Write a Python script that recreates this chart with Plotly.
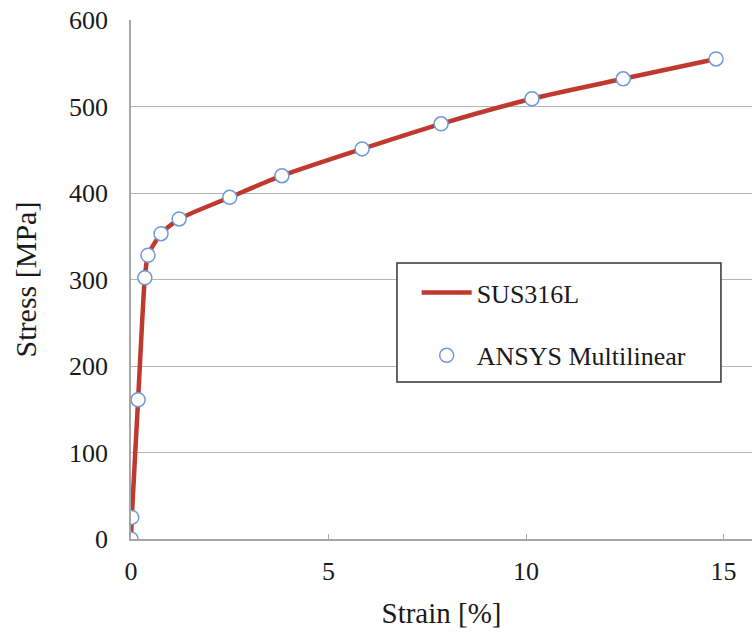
import plotly.graph_objects as go

strain = [0.0, 0.02, 0.18, 0.35, 0.43, 0.76, 1.22, 2.5, 3.82, 5.85, 7.85, 10.15, 12.46, 14.81]
stress = [0, 25, 161, 302, 328, 353, 370, 395, 420, 451, 480, 509, 532, 555]

y_ticks = [0, 100, 200, 300, 400, 500, 600]
x_ticks = [0, 5, 10, 15]

font_family = "Liberation Serif, Times New Roman, serif"

fig = go.Figure()
fig.add_trace(go.Scatter(
    x=strain, y=stress, mode="lines", name="SUS316L",
    line=dict(color="#c0392f", width=4.5, shape="spline", smoothing=0.6),
    legendgroup="a",
))
fig.add_trace(go.Scatter(
    x=strain, y=stress, mode="markers", name="ANSYS Multilinear",
    marker=dict(symbol="circle", size=14, color="white",
                line=dict(color="#6d9ad6", width=1.5)),
    legendgroup="b",
))

# legend frame
fig.add_shape(type="rect", xref="paper", yref="paper",
              x0=0.4283, x1=0.950, y0=0.3025, y1=0.5318,
              line=dict(color="#333", width=1.5), fillcolor="white", layer="above")

fig.update_layout(
    width=752, height=634,
    margin=dict(l=131, r=0, t=20, b=95),
    paper_bgcolor="white", plot_bgcolor="white",
    font=dict(family=font_family, size=26, color="#1a1a1a"),
    showlegend=True,
    legend=dict(
        x=0.46, y=0.52, xanchor="left", yanchor="top",
        bgcolor="rgba(0,0,0,0)", borderwidth=0,
        font=dict(size=26, family=font_family, color="#1a1a1a"),
        tracegroupgap=26, itemwidth=50,
    ),
    xaxis=dict(
        range=[0, 15.72], tickvals=x_ticks, showgrid=False, zeroline=False,
        showline=True, linecolor="#a6a6a6", linewidth=1.5,
        ticks="inside", ticklen=5, tickcolor="#a6a6a6",
        ticklabelstandoff=8,
        title=dict(text="Strain [%]", font=dict(size=29, family=font_family), standoff=18),
    ),
    yaxis=dict(
        range=[0, 600], tickvals=y_ticks, showgrid=True, gridcolor="#b5b5b5", gridwidth=1,
        zeroline=False, showline=True, linecolor="#a6a6a6", linewidth=1.5,
        ticks="", ticklabelstandoff=16,
        title=dict(text="Stress [MPa]", font=dict(size=30, family=font_family), standoff=24),
    ),
)

fig.write_html("out.html")
